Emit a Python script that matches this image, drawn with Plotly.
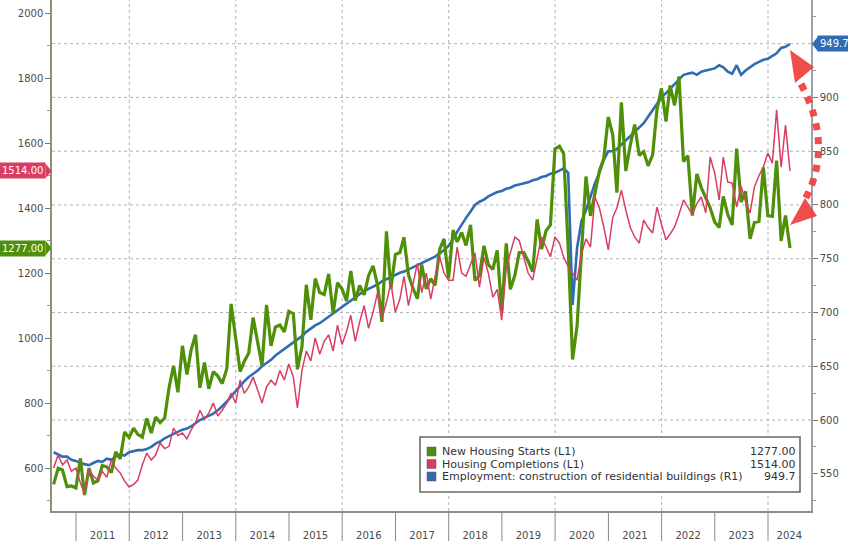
import pandas as pd
import plotly.graph_objects as go

# ---------------- data ----------------
months = pd.date_range("2010-07-31", periods=167, freq="ME")

housing_starts = [
    550, 599, 594, 543, 545, 539,
    630, 517, 600, 554, 561, 608, 604, 586, 650, 628, 711, 694,
    723, 704, 695, 753, 708, 757, 740, 754, 847, 915, 833, 976,
    888, 962, 1010, 847, 925, 844, 897, 883, 860, 905, 1105, 1003,
    897, 928, 954, 1063, 984, 915, 1102, 976, 1034, 1040, 1019, 1082,
    1075, 904, 973, 1164, 1056, 1183, 1140, 1134, 1197, 1076, 1170, 1151,
    1114, 1206, 1115, 1162, 1133, 1192, 1222, 1163, 1050, 1328, 1151, 1257,
    1263, 1310, 1194, 1154, 1121, 1226, 1151, 1183, 1162, 1273, 1305, 1183,
    1332, 1296, 1325, 1285, 1348, 1177, 1192, 1284, 1226, 1211, 1270, 1081,
    1291, 1150, 1193, 1263, 1263, 1237, 1204, 1365, 1274, 1330, 1348, 1582,
    1590, 1567, 1276, 934, 1038, 1273, 1497, 1376, 1448, 1514, 1552, 1680,
    1625, 1447, 1725, 1514, 1594, 1657, 1562, 1573, 1530, 1563, 1703, 1768,
    1666, 1777, 1716, 1805, 1543, 1561, 1377, 1505, 1463, 1432, 1401, 1357,
    1340, 1436, 1380, 1348, 1583, 1418, 1451, 1305, 1356, 1359, 1525, 1376,
    1375, 1546, 1299, 1377, 1277,
]

housing_completions = [
    600, 640, 610, 625, 590, 600,
    554, 523, 594, 575, 563, 590, 572, 625, 600, 585, 560, 542,
    550, 563, 610, 646, 625, 640, 677, 660, 667, 723, 700, 708,
    690, 717, 740, 778, 750, 770, 800, 760, 778, 800, 831, 800,
    871, 830, 850, 880, 840, 800, 850, 870, 855, 900, 871, 920,
    880, 785, 900, 960, 930, 1000, 950, 990, 1010, 960, 1040, 980,
    1020, 1070, 990, 1050, 1100, 1030, 1080, 1140, 1060, 1110, 1170, 1080,
    1120, 1190, 1100, 1170, 1230, 1140, 1200, 1120, 1190, 1250, 1200, 1178,
    1178, 1280, 1200, 1190, 1230, 1262, 1157, 1249, 1200, 1126, 1150, 1055,
    1218, 1260, 1311, 1300, 1250, 1200, 1178, 1250, 1311, 1280, 1250, 1311,
    1292, 1249, 1220, 1200, 1178, 1260, 1305, 1280, 1434, 1400, 1342, 1271,
    1372, 1400, 1455, 1394, 1340, 1311, 1292, 1363, 1340, 1323, 1403, 1350,
    1302, 1320, 1342, 1380, 1425, 1403, 1380, 1414, 1434, 1385, 1557, 1508,
    1425, 1557, 1480, 1477, 1403, 1468, 1420, 1385, 1465, 1500, 1526, 1569,
    1538, 1702, 1526, 1655, 1514,
]

employment = [
    570, 568, 566, 566, 563, 562,
    560, 559, 558, 560, 562, 561, 564, 563, 566, 568, 567, 570,
    571, 572, 572, 573, 575, 578, 580, 583, 585, 587, 589, 591,
    592, 594, 597, 600, 602, 604, 606, 609, 613, 617, 622, 627,
    632, 636, 640, 643, 646, 650, 653, 656, 660, 663, 666, 669,
    672, 675, 678, 682, 685, 688, 690, 693, 696, 699, 702, 705,
    708, 711, 714, 717, 720, 722, 724, 726, 729, 731, 733, 735,
    737, 738, 740, 742, 744, 746, 748, 750, 752, 755, 758, 762,
    768, 775, 782, 788, 794, 800, 803, 805, 808, 810, 812, 813,
    815, 816, 818, 819, 820, 821, 823, 824, 826, 827, 829, 830,
    832, 834, 830, 707, 760, 785, 795, 808, 820, 830, 842, 850,
    850, 852, 856, 860, 864, 868, 872, 876, 882, 888, 894, 900,
    904, 908, 912, 916, 921, 922, 923, 921, 924, 925, 926, 927,
    930, 928, 924, 922, 930, 921, 925, 928, 931, 933, 935, 936,
    939, 941, 946, 947, 949.7,
]

series_names = [
    "New Housing Starts (L1)",
    "Housing Completions (L1)",
    "Employment: construction of residential buildings (R1)",
]
year_labels = [str(y) for y in range(2011, 2025)]
year_label_dates = [f"{y}-07-02" for y in range(2011, 2024)] + ["2024-05-26"]
year_starts = [f"{y}-01-01" for y in range(2011, 2025)]
grid_years = [f"{y}-01-01" for y in range(2012, 2025, 2)]
right_ticks = [550, 600, 650, 700, 750, 800, 850, 900]
right_grid = [600, 650, 700, 750, 800, 850, 900, 950]
left_ticks = [600, 800, 1000, 1200, 1400, 1600, 1800, 2000]

GREEN = "#4f8f0a"
RED = "#d93d63"
BLUE = "#2f6cb3"
ARROW = "rgba(240,62,62,0.92)"
FONT = "DejaVu Sans"

# ---------------- geometry helpers (pixel -> paper) ----------------
W, H = 848, 541
L, R, T, B = 52, 811, 0, 511
LEFT_RANGE = [468, 2040]
RIGHT_RANGE = [515.4, 990.6]


def px(x):
    return (x - L) / (R - L)


def py(y):
    return (B - y) / (B - T)


def left_pix(v):
    return B - (v - LEFT_RANGE[0]) / (LEFT_RANGE[1] - LEFT_RANGE[0]) * (B - T)


def right_pix(v):
    return B - (v - RIGHT_RANGE[0]) / (RIGHT_RANGE[1] - RIGHT_RANGE[0]) * (B - T)


fig = go.Figure()
fig.add_trace(go.Scatter(x=months, y=employment, yaxis="y", mode="lines",
                         line=dict(color=BLUE, width=2.6), name=series_names[2],
                         showlegend=False))
fig.add_trace(go.Scatter(x=months, y=housing_starts, yaxis="y2", mode="lines",
                         line=dict(color=GREEN, width=3.2), name=series_names[0],
                         showlegend=False))
fig.add_trace(go.Scatter(x=months, y=housing_completions, yaxis="y2", mode="lines",
                         line=dict(color=RED, width=1.5), name=series_names[1],
                         showlegend=False))

shapes = []
# horizontal dotted gridlines on the right-axis scale
for v in right_grid:
    shapes.append(dict(type="line", xref="paper", yref="y", x0=0, x1=1, y0=v, y1=v,
                       line=dict(color="#b3b3b3", width=1, dash="dot"), layer="below"))
# vertical dotted gridlines every two years
for d in grid_years:
    shapes.append(dict(type="line", xref="x", yref="paper", x0=d, x1=d, y0=0, y1=1,
                       line=dict(color="#b3b3b3", width=1, dash="dot"), layer="below"))
# year boundary ticks below the axis
for d in year_starts:
    shapes.append(dict(type="line", xref="x", yref="paper", x0=d, x1=d, y0=0,
                       y1=py(541), line=dict(color="#8a8a8a", width=1)))

# badge arrow tips
def tri(points, color):
    path = "M " + " L ".join(f"{px(a)},{py(b)}" for a, b in points) + " Z"
    return dict(type="path", xref="paper", yref="paper", path=path,
                fillcolor=color, line=dict(width=0))

yc = left_pix(housing_completions[-1])
ys = left_pix(housing_starts[-1])
ye = right_pix(employment[-1])
shapes.append(tri([(45.5, yc - 7.5), (51.5, yc), (45.5, yc + 7.5)], RED))
shapes.append(tri([(45.5, ys - 7.5), (51.5, ys), (45.5, ys + 7.5)], GREEN))
shapes.append(tri([(818, ye - 7.5), (812, ye), (818, ye + 7.5)], BLUE))

# red dashed double arrow
shapes.append(dict(type="path", xref="paper", yref="paper",
                   path=f"M {px(801)},{py(84)} Q {px(835)},{py(148)} {px(803)},{py(203)}",
                   line=dict(color=ARROW, width=7, dash="dot")))
shapes.append(tri([(790, 50), (814, 67), (795, 83)], ARROW))
shapes.append(tri([(790, 225), (805, 198), (817, 216)], ARROW))

# legend box
shapes.append(dict(type="rect", xref="paper", yref="paper",
                   x0=px(420), x1=px(800), y0=py(492), y1=py(437),
                   fillcolor="white", line=dict(color="#6a6a6a", width=1.6)))
row_y = [451.5, 464.0, 476.5]
for c, r in zip([GREEN, RED, BLUE], row_y):
    shapes.append(dict(type="rect", xref="paper", yref="paper",
                       x0=px(427), x1=px(436), y0=py(r + 4.5), y1=py(r - 4.5),
                       fillcolor=c, line=dict(color="#555555", width=0.5)))

annotations = []
legend_values = [f"{housing_starts[-1]:.2f}", f"{housing_completions[-1]:.2f}",
                 f"{employment[-1]:.1f}"]
for name, val, r in zip(series_names, legend_values, row_y):
    annotations.append(dict(xref="paper", yref="paper", x=px(440), y=py(r),
                            xanchor="left", yanchor="middle", text=name, showarrow=False,
                            font=dict(family=FONT, size=11, color="#333333")))
    annotations.append(dict(xref="paper", yref="paper", x=px(798), y=py(r),
                            xanchor="right", yanchor="middle", text=val, showarrow=False,
                            font=dict(family=FONT, size=11, color="#333333")))

# value badges
annotations.append(dict(xref="paper", yref="y2", x=0, xshift=-6, y=housing_completions[-1],
                        xanchor="right", yanchor="middle", showarrow=False,
                        text=f"{housing_completions[-1]:.2f}", bgcolor=RED, borderpad=2,
                        font=dict(family=FONT, size=10, color="white")))
annotations.append(dict(xref="paper", yref="y2", x=0, xshift=-6, y=housing_starts[-1],
                        xanchor="right", yanchor="middle", showarrow=False,
                        text=f"{housing_starts[-1]:.2f}", bgcolor=GREEN, borderpad=2,
                        font=dict(family=FONT, size=10, color="white")))
annotations.append(dict(xref="paper", yref="y", x=1, xshift=6, y=employment[-1],
                        xanchor="left", yanchor="middle", showarrow=False,
                        text=f"{employment[-1]:.1f}", bgcolor=BLUE, borderpad=2,
                        font=dict(family=FONT, size=10, color="white")))

tickfont = dict(family=FONT, size=10, color="#4a4a4a")

fig.update_layout(
    width=W, height=H,
    margin=dict(l=L, r=W - R, t=T, b=H - B, autoexpand=False),
    paper_bgcolor="white", plot_bgcolor="white",
    showlegend=False,
    xaxis=dict(type="date", range=["2010-07-20", "2024-10-22"],
               tickmode="array", tickvals=year_label_dates, ticktext=year_labels,
               ticks="", showgrid=False, zeroline=False,
               showline=True, linecolor="#8c8c8c", linewidth=1.5,
               ticklabelstandoff=14, tickfont=tickfont),
    yaxis=dict(side="right", range=RIGHT_RANGE, tickmode="array", tickvals=right_ticks,
               showgrid=False, zeroline=False, ticks="outside", ticklen=5,
               tickcolor="#777777",
               minor=dict(ticks="outside", ticklen=3, dtick=25, tick0=0,
                          tickcolor="#999999", showgrid=False),
               showline=True, linecolor="#9aa3ad", linewidth=1.5,
               tickfont=tickfont),
    yaxis2=dict(side="left", overlaying="y", range=LEFT_RANGE, tickmode="array",
                tickvals=left_ticks,
                showgrid=False, zeroline=False, ticks="outside", ticklen=5,
                tickcolor="#777777",
                minor=dict(ticks="outside", ticklen=3, dtick=100, tick0=0,
                           tickcolor="#999999", showgrid=False),
                showline=True, linecolor="#8e8e7a", linewidth=1.5,
                tickfont=tickfont),
    shapes=shapes,
    annotations=annotations,
)

fig.write_html(
    "out.html",
    config={"displayModeBar": False},
    post_script="document.body.style.margin='0';document.body.style.overflow='hidden';",
)
